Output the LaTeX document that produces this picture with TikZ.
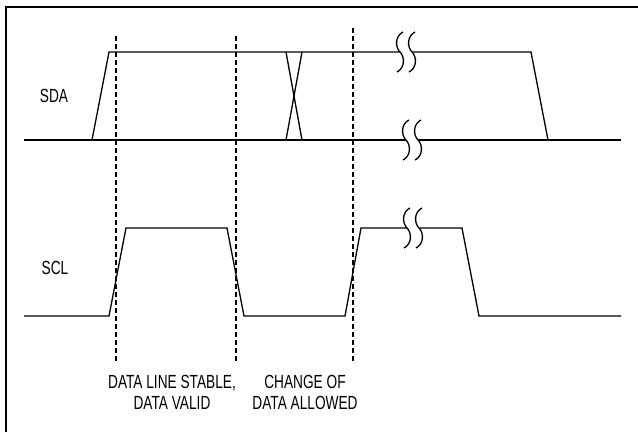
\documentclass[tikz,border=0pt]{standalone}
\usepackage{fontspec}
\setmainfont{Liberation Sans}[FakeStretch=0.72]
\usepackage{tikz}

\tikzset{
  sig/.style={line width=1.3pt, line join=miter},
  guide/.style={dash pattern=on 5pt off 3pt, line width=1.6pt},
  lbl/.style={font={\fontsize{19}{21}\selectfont}, align=center, inner sep=0pt},
  brk/.pic={
    \fill[white] (-6,-2.5) rectangle (6,2.5);
    \foreach \dx in {-6,6}
      \draw[line width=1.3pt] (\dx+3,-20) .. controls (\dx-5,-16) and (\dx-5,-5) .. (\dx,0)
        .. controls (\dx+5,5) and (\dx+5,16) .. (\dx-3,20);
  }
}

\begin{document}
\begin{tikzpicture}[x=1pt,y=-1pt]
    \useasboundingbox (0,0) rectangle (638,432);
    % frame
    \draw[line width=2.5pt] (6,432) -- (6,7) -- (638,7);

    % SDA
    \draw[sig] (24,140) -- (621,140);
    \draw[sig] (92,140) -- (109,52) -- (531,52) -- (548,140);
    \draw[sig] (286,52) -- (302,140);
    \draw[sig] (302,52) -- (286,140);
    \pic at (406,52) {brk};
    \pic at (412,140) {brk};

    % SCL
    \draw[sig] (24,316) -- (109,316) -- (126,228) -- (227,228) -- (244,316)
        -- (345,316) -- (361,228) -- (462,228) -- (479,316) -- (621,316);
    \pic at (413,228) {brk};

    % dashed markers
    \draw[guide] (116,36) -- (116,362);
    \draw[guide] (236,36) -- (236,362);
    \draw[guide] (353,28) -- (353,362);

    \node[lbl] (sda) at (54,96) {SDA};
    \node[lbl] (scl) at (55,268) {SCL};
    \node[lbl] (stable) at (172,392) {DATA LINE STABLE,\\DATA VALID};
    \node[lbl] (change) at (305,392) {CHANGE OF\\DATA ALLOWED};
\end{tikzpicture}
\end{document}
